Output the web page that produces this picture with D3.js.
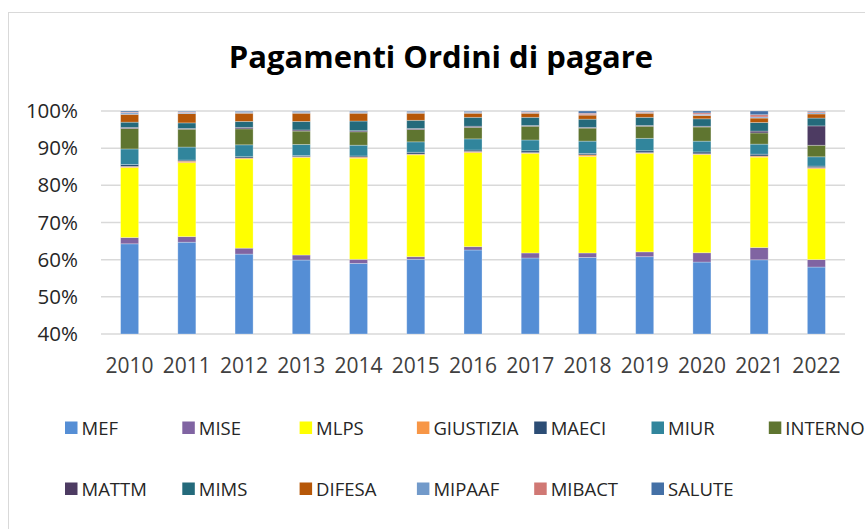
<!DOCTYPE html>
<html>
<head>
<meta charset="utf-8">
<script src="https://cdn.jsdelivr.net/npm/d3@7"></script>
<style>
    body { margin: 0; background: #fff; }
    svg { font-family: 'Open Sans', sans-serif; }
</style>
</head>
<body>
<svg width="865" height="529"></svg>
<script>
'use strict';

// data (% of payments per ministry)
var years = ['2010', '2011', '2012', '2013', '2014', '2015', '2016', '2017', '2018', '2019', '2020', '2021', '2022'];
var ministries = ['MEF', 'MISE', 'MLPS', 'GIUSTIZIA', 'MAECI', 'MIUR', 'INTERNO', 'MATTM', 'MIMS', 'DIFESA', 'MIPAAF', 'MIBACT', 'SALUTE'];
var colors = ['#558ed5', '#8064a2', '#ffff00', '#f79646', '#2c4d75', '#31859c', '#5f7530', '#4d3b62', '#246a7b', '#b65708', '#729aca', '#d07874', '#4470a6'];
var yTicks = [0.4, 0.5, 0.6, 0.7, 0.8, 0.9, 1];

var MEF = [64.2, 64.7, 61.5, 59.9, 59.0, 60.1, 62.6, 60.45, 60.6, 60.8, 59.3, 59.9, 57.9];
var MISE = [1.7, 1.5, 1.6, 1.35, 1.1, 0.7, 0.9, 1.35, 1.2, 1.3, 2.5, 3.3, 2.0];
var MLPS = [18.8, 19.9, 24.0, 26.25, 27.2, 27.4, 25.3, 26.8, 26.0, 26.5, 26.4, 24.3, 24.4];
var GIUSTIZIA = [0.3, 0.4, 0.25, 0.2, 0.3, 0.2, 0.3, 0.2, 0.4, 0.2, 0.2, 0.3, 0.3];
var MAECI = [0.5, 0.3, 0.35, 0.3, 0.3, 0.5, 0.4, 0.5, 0.4, 0.5, 0.5, 0.5, 0.4];
var MIUR = [4.2, 3.5, 3.2, 3.0, 2.9, 2.8, 3.0, 2.9, 3.3, 3.35, 2.9, 2.7, 2.5];
var INTERNO = [5.5, 4.8, 4.3, 3.6, 3.6, 3.3, 3.1, 3.7, 3.5, 3.25, 3.8, 3.0, 3.1];
var MATTM = [0.3, 0.2, 0.4, 0.3, 0.3, 0.3, 0.3, 0.2, 0.2, 0.2, 0.2, 0.5, 5.2];
var MIMS = [1.4, 1.5, 1.6, 2.3, 2.6, 2.2, 2.4, 2.2, 2.2, 2.2, 2.0, 2.3, 2.1];
var DIFESA = [2.1, 2.5, 2.2, 2.2, 2.1, 1.9, 1.1, 1.1, 1.1, 1.1, 0.9, 1.2, 1.1];
var MIPAAF = [0.4, 0.3, 0.3, 0.3, 0.3, 0.3, 0.3, 0.2, 0.1, 0.2, 0.3, 0.3, 0.3];
var MIBACT = [0.2, 0.2, 0.1, 0.1, 0.1, 0.1, 0.1, 0.2, 0.4, 0.2, 0.4, 0.6, 0.3];
var SALUTE = [0.3, 0.2, 0.2, 0.2, 0.2, 0.2, 0.2, 0.2, 0.6, 0.2, 0.5, 1.0, 0.2];

var series = [MEF, MISE, MLPS, GIUSTIZIA, MAECI, MIUR, INTERNO, MATTM, MIMS, DIFESA, MIPAAF, MIBACT, SALUTE];

var rows = years.map(function(year, i) {
    var row = {year: year};
    ministries.forEach(function(m, j) { row[m] = series[j][i]; });
    return row;
});

var svg = d3.select('svg');
var plotLeft = 101, plotRight = 845, plotTop = 111, plotBottom = 334;

// chart frame
svg.append('rect')
    .attr('x', 8.5).attr('y', 12.5)
    .attr('width', 900).attr('height', 600)
    .attr('fill', '#fff')
    .attr('stroke', '#d9d9d9')
    .attr('stroke-width', 1);

svg.append('text')
    .attr('x', 441).attr('y', 68)
    .attr('text-anchor', 'middle')
    .attr('font-size', 31)
    .attr('font-weight', 'bold')
    .attr('fill', '#000')
    .text('Pagamenti Ordini di pagare');

var x = d3.scaleBand()
    .domain(years)
    .range([plotLeft, plotRight])
    .paddingInner(0.685)
    .paddingOuter(0.3425);

var y = d3.scaleLinear()
    .domain([0.4, 1])
    .range([plotBottom, plotTop])
    .clamp(true);

// gridlines
svg.append('g')
    .selectAll('line')
    .data(yTicks)
    .enter()
    .append('line')
    .attr('x1', plotLeft).attr('x2', plotRight)
    .attr('y1', function(d) { return y(d); })
    .attr('y2', function(d) { return y(d); })
    .attr('stroke', '#d9d9d9')
    .attr('stroke-width', 1.5);

// y axis labels
var yAxis = svg.append('g')
    .attr('transform', 'translate(' + (plotLeft - 11) + ',0)')
    .call(d3.axisLeft(y).tickValues(yTicks).tickFormat(d3.format('.0%')).tickSize(0).tickPadding(12));
yAxis.select('.domain').remove();
yAxis.selectAll('text')
    .attr('font-family', "'Open Sans', sans-serif")
    .attr('font-size', 20.5)
    .attr('fill', '#262626');

// x axis labels
var xAxis = svg.append('g')
    .attr('transform', 'translate(0,' + plotBottom + ')')
    .call(d3.axisBottom(x).tickSize(0).tickPadding(24));
xAxis.select('.domain').remove();
xAxis.selectAll('text')
    .attr('font-family', "'Open Sans', sans-serif")
    .attr('font-size', 21)
    .attr('fill', '#404040');

var stack = d3.stack()
    .keys(ministries)
    .offset(d3.stackOffsetExpand);

var layers = svg.append('g')
    .selectAll('g')
    .data(stack(rows))
    .enter()
    .append('g')
    .attr('fill', function(d, i) { return colors[i]; });

layers.selectAll('rect')
    .data(function(d) { return d; })
    .enter()
    .append('rect')
    .attr('x', function(d) { return x(d.data.year); })
    .attr('width', x.bandwidth())
    .attr('y', function(d) { return y(d[1]); })
    .attr('height', function(d) { return y(d[0]) - y(d[1]); })
    .attr('stroke', '#fff')
    .attr('stroke-opacity', 0.35)
    .attr('stroke-width', 0.8);

// legend, two rows of seven
var legend = svg.append('g')
    .selectAll('g')
    .data(ministries)
    .enter()
    .append('g')
    .attr('transform', function(d, i) {
        return 'translate(' + (65 + (i % 7) * 117.3) + ',' + (i < 7 ? 428 : 489) + ')';
    });

legend.append('rect')
    .attr('x', 0).attr('y', -6.5)
    .attr('width', 12.5).attr('height', 12.5)
    .attr('fill', function(d, i) { return colors[i]; });

legend.append('text')
    .attr('x', 16.5)
    .attr('dy', '0.36em')
    .attr('font-size', 18.5)
    .attr('fill', '#262626')
    .text(function(d) { return d; });
</script>
</body>
</html>
